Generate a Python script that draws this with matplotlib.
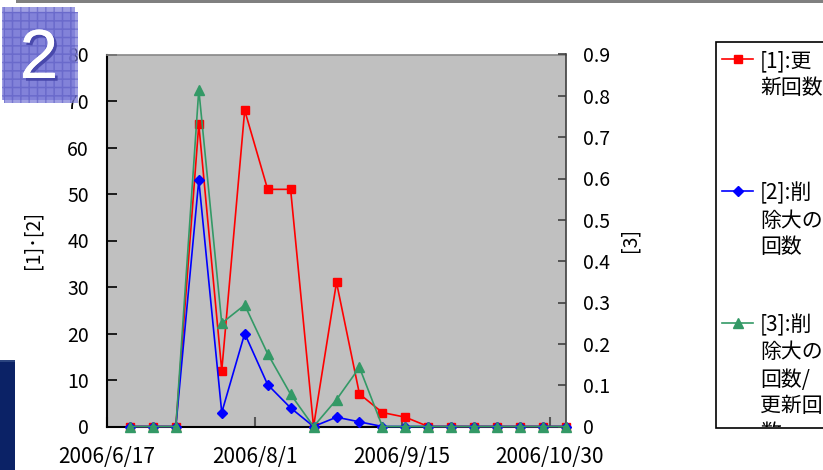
import matplotlib
matplotlib.use('Agg')
import matplotlib.pyplot as plt
from matplotlib.patches import Rectangle
from matplotlib.lines import Line2D
from matplotlib.transforms import Bbox, TransformedBbox
import matplotlib.patheffects as pe
import unicodedata
from datetime import datetime

plt.rcParams['font.family'] = ['Noto Sans CJK JP', 'DejaVu Sans']

# ---------------- data ----------------
dates = ['2006-06-24', '2006-07-01', '2006-07-08', '2006-07-15', '2006-07-22',
         '2006-07-29', '2006-08-05', '2006-08-12', '2006-08-19', '2006-08-26',
         '2006-09-02', '2006-09-09', '2006-09-16', '2006-09-23', '2006-09-30',
         '2006-10-07', '2006-10-14', '2006-10-21', '2006-10-28', '2006-11-04']
update_counts = [0, 0, 0, 65, 12, 68, 51, 51, 0, 31, 7, 3, 2, 0, 0, 0, 0, 0, 0, 0]
delete_counts = [0, 0, 0, 53, 3, 20, 9, 4, 0, 2, 1, 0, 0, 0, 0, 0, 0, 0, 0, 0]
delete_ratio = [0, 0, 0, 0.815, 0.25, 0.294, 0.176, 0.078, 0, 0.065, 0.143,
                0, 0, 0, 0, 0, 0, 0, 0, 0]
series_names = ['[1]:更新回数', '[2]:削除大の回数', '[3]:削除大の回数/更新回数']
series_colors = ['#FF0000', '#0000FF', '#339966']
series_markers = ['s', 'D', '^']
x_range = ['2006-06-17', '2006-11-04']
x_ticks = ['2006-06-17', '2006-08-01', '2006-09-15', '2006-10-30']
x_tick_labels = ['2006/6/17', '2006/8/1', '2006/9/15', '2006/10/30']
left_ticks = [0, 10, 20, 30, 40, 50, 60, 70, 80]
right_ticks = [0, 0.1, 0.2, 0.3, 0.4, 0.5, 0.6, 0.7, 0.8, 0.9]
right_tick_labels = ['0', '0.1', '0.2', '0.3', '0.4', '0.5', '0.6', '0.7', '0.8', '0.9']
left_axis_title = '[1]･[2]'
right_axis_title = '[3]'
badge_text = '2'

# ---------------- figure ----------------
W, H = 823, 470
fig = plt.figure(figsize=(W / 100, H / 100), dpi=100)


def fx(px):
    return px / W


def fy(py):
    return 1 - py / H


def to_dt(s):
    return datetime.strptime(s, '%Y-%m-%d')


xd = [to_dt(d) for d in dates]

# decorations
fig.add_artist(Rectangle((fx(16), fy(3)), 1 - fx(16), 3 / H, transform=fig.transFigure,
                         facecolor='#808080', edgecolor='none', zorder=0))
fig.add_artist(Rectangle((0, 0), fx(15), (470 - 360) / H, transform=fig.transFigure,
                         facecolor='#0B2266', edgecolor='none', zorder=0))
fig.add_artist(Rectangle((0, fy(362)), fx(15), 2 / H, transform=fig.transFigure,
                         facecolor='#2B447F', edgecolor='none', zorder=0))

ax = fig.add_axes([fx(107), fy(426.5), (566 - 107) / W, (426.5 - 54.5) / H])
ax.set_facecolor('#C0C0C0')
ax2 = ax.twinx()

ax.plot(xd, update_counts, color=series_colors[0], marker=series_markers[0],
        markersize=5.5, lw=1.2, clip_on=False, zorder=3)
ax.plot(xd, delete_counts, color=series_colors[1], marker=series_markers[1],
        markersize=4.8, lw=1.2, clip_on=False, zorder=4)
ax2.plot(xd, delete_ratio, color=series_colors[2], marker=series_markers[2],
         markersize=6.5, lw=1.2, clip_on=False, zorder=5)

ax.set_xlim(to_dt(x_range[0]), to_dt(x_range[1]))
ax.set_xticks([to_dt(t) for t in x_ticks])
ax.set_xticklabels(x_tick_labels)
ax.set_ylim(0, 80)
ax.set_yticks(left_ticks)
ax.set_yticklabels([str(t) for t in left_ticks])
ax2.set_ylim(0, 0.9)
ax2.set_yticks(right_ticks)
ax2.set_yticklabels(right_tick_labels)

ax.tick_params(axis='y', direction='in', length=7, width=1.2, pad=13,
               labelsize=14, colors='black')
ax.tick_params(axis='x', direction='in', length=7, width=1.5, pad=14,
               labelsize=15, color='#555555', labelcolor='black')
ax2.tick_params(axis='y', direction='in', length=6, width=1.2, pad=12,
                labelsize=14, color='#404040', labelcolor='black')

for s in ['left', 'bottom']:
    ax.spines[s].set_color('black')
    ax.spines[s].set_linewidth(1.5)
ax.spines['top'].set_color('#888888')
ax.spines['top'].set_linewidth(1.2)
ax.spines['right'].set_visible(False)
for s in ['left', 'bottom', 'top']:
    ax2.spines[s].set_visible(False)
ax2.spines['right'].set_color('#404040')
ax2.spines['right'].set_linewidth(1.2)

fig.text(fx(33), fy(240), left_axis_title, rotation=90, ha='center', va='center', fontsize=14)
fig.text(fx(630), fy(240), right_axis_title, rotation=90, ha='center', va='center', fontsize=14)

# badge
for (x0, y0, x1, y1) in [(2, 7, 75, 100), (4, 12, 78, 103)]:
    fig.add_artist(Rectangle((fx(x0), fy(y1)), (x1 - x0) / W, (y1 - y0) / H,
                             transform=fig.transFigure, facecolor='#7676D6',
                             edgecolor='#6666C8', hatch='++', linewidth=0,
                             alpha=0.7, zorder=2))
fig.text(fx(39), fy(60), badge_text, ha='center', va='center', fontsize=50,
         family=['Liberation Sans', 'DejaVu Sans'], color='white', zorder=3,
         path_effects=[pe.withSimplePatchShadow(offset=(2, -2), shadow_rgbFace='#4444A8', alpha=0.9),
                       pe.Normal()])

# legend
lx0, ly0, ly1 = 715.5, 42, 428
fig.add_artist(Rectangle((fx(lx0), fy(ly1)), 1.1 - fx(lx0), (ly1 - ly0) / H,
                         transform=fig.transFigure, facecolor='white',
                         edgecolor='black', linewidth=1.2, zorder=2))
clip = TransformedBbox(Bbox([[fx(lx0), fy(ly1 - 1)], [1, fy(ly0)]]), fig.transFigure)


def wrap(name, width=6):
    lines, cur, w = [], '', 0
    for ch in name:
        cw = 2 if unicodedata.east_asian_width(ch) in ('W', 'F') else 1
        if w + cw > width:
            lines.append(cur)
            cur, w = '', 0
        cur += ch
        w += cw
    if cur:
        lines.append(cur)
    return lines


sizes = [5.5, 4.8, 6.5]
for i, name in enumerate(series_names):
    ym = 59 + i * 132
    fig.add_artist(Line2D([fx(722), fx(753)], [fy(ym), fy(ym)], transform=fig.transFigure,
                          color=series_colors[i], lw=1.2, zorder=3))
    fig.add_artist(Line2D([fx(737.5)], [fy(ym)], transform=fig.transFigure,
                          color=series_colors[i], marker=series_markers[i],
                          markersize=sizes[i], zorder=3))
    for j, line in enumerate(wrap(name)):
        t = fig.text(fx(760), fy(ym + 2.5 + j * 27), line, ha='left', va='center',
                     fontsize=15, zorder=4)
        t.set_clip_box(clip)
        t.set_clip_on(True)

fig.savefig('out.png', dpi=100)
